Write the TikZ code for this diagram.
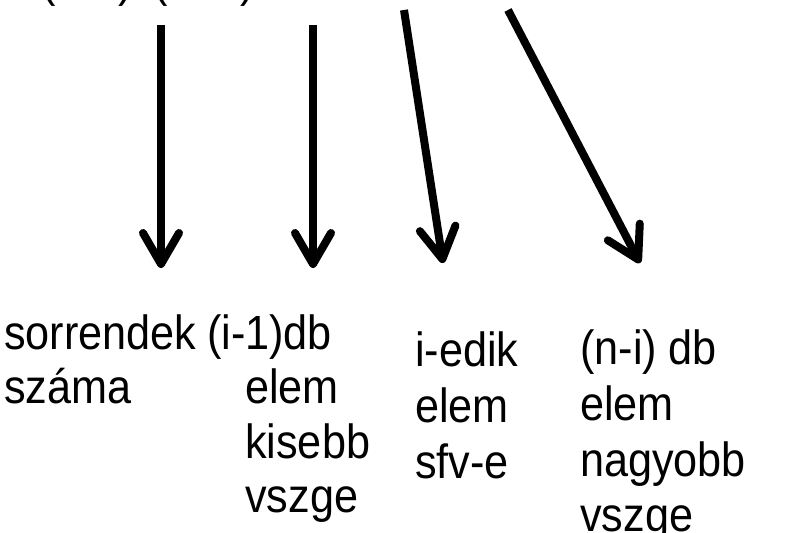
\documentclass[tikz,border=0pt]{standalone}
\usepackage{fontspec}
\setmainfont{Liberation Sans}
\newfontfamily\narrowsans[FakeStretch=0.9]{Liberation Sans}
\usetikzlibrary{arrows.meta}
\begin{document}
\begin{tikzpicture}[x=1pt,y=-1pt,
  lbl/.style={anchor=base west,inner sep=0pt,font=\narrowsans\fontsize{48}{56}\selectfont},
  bigarrow/.style={line width=8pt,
    -{Straight Barb[length=31pt,width=36pt,line width=8pt,round]}}]
\useasboundingbox (0,0) rectangle (802,532);
\clip (0,0) rectangle (802,532);
% parentheses of the line above, mostly cut off at the top edge
\node[lbl] (p1) at (41,-3) {(};
\node[lbl] (p2) at (118,-3) {)};
\node[lbl] (p3) at (153,-3) {(};
\node[lbl] (p4) at (240,-3) {)};
% arrow ends
\coordinate (s1) at (161,25);  \coordinate (e1) at (161,268);
\coordinate (s2) at (313,25);  \coordinate (e2) at (313,268);
\coordinate (s3) at (404,10);  \coordinate (e3) at (443,263);
\coordinate (s4) at (508,10);  \coordinate (e4) at (640,263);
\draw[bigarrow] (s1) -- (e1);
\draw[bigarrow] (s2) -- (e2);
\draw[bigarrow] (s3) -- (e3);
\draw[bigarrow] (s4) -- (e4);
% column 1
\node[lbl] (a1) at (4,349) {sorrendek};
\node[lbl] (a2) at (4,403) {száma};
% column 2
\node[lbl] (b1) at (207,349) {(i-1)db};
\node[lbl] (b2) at (245,403) {elem};
\node[lbl] (b3) at (245,458) {kisebb};
\node[lbl] (b4) at (245,512) {vszge};
% column 3
\node[lbl] (c1) at (415,366) {i-edik};
\node[lbl] (c2) at (415,422) {elem};
\node[lbl] (c3) at (415,478) {sfv-e};
% column 4
\node[lbl] (d1) at (580,364) {(n-i) db};
\node[lbl] (d2) at (580,420) {elem};
\node[lbl] (d3) at (580,476) {nagyobb};
\node[lbl] (d4) at (580,531) {vszge};
\end{tikzpicture}
\end{document}
